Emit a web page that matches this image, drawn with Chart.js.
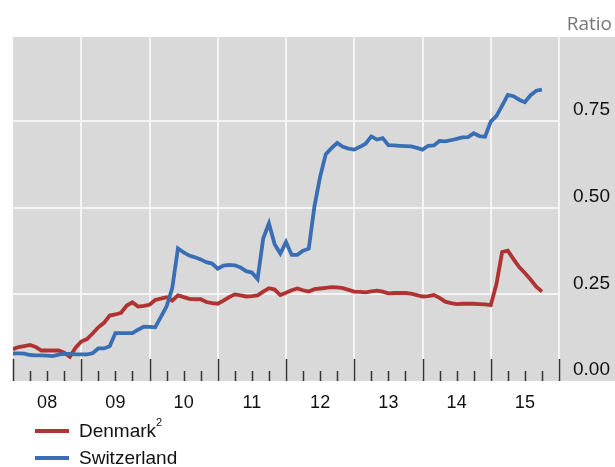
<!DOCTYPE html>
<html>
<head>
<meta charset="utf-8">
<script src="https://cdn.jsdelivr.net/npm/chart.js@4"></script>
<style>
  html, body { margin: 0; padding: 0; background: #fff; }
  #wrap { width: 615px; height: 467px; position: relative; }
</style>
</head>
<body>
<div id="wrap"><canvas id="grafico"></canvas></div>
<script>
// dados mensais, jan/2008 .. out/2015
const firstYear = 2008;
const lastYear = 2016;
const yearLabels = ['08', '09', '10', '11', '12', '13', '14', '15'];
const yTicks = [0, 0.25, 0.5, 0.75];
const seriesNames = ['Denmark', 'Switzerland'];
const seriesNotes = ['2', ''];

const denmark = [
  0.092, 0.098, 0.101, 0.104, 0.098, 0.088, 0.088, 0.088, 0.088, 0.082, 0.070, 0.096,
  0.114, 0.121, 0.137, 0.155, 0.168, 0.189, 0.192, 0.197, 0.218, 0.227, 0.215, 0.217,
  0.220, 0.234, 0.238, 0.242, 0.232, 0.247, 0.242, 0.237, 0.236, 0.236, 0.228, 0.225,
  0.223, 0.232, 0.242, 0.250, 0.247, 0.244, 0.245, 0.247, 0.258, 0.268, 0.264, 0.248,
  0.255, 0.262, 0.267, 0.262, 0.258, 0.265, 0.267, 0.269, 0.271, 0.270, 0.268, 0.263,
  0.258, 0.257, 0.256, 0.259, 0.261, 0.258, 0.253, 0.254, 0.254, 0.254, 0.252, 0.248,
  0.244, 0.245, 0.248, 0.240, 0.229, 0.225, 0.222, 0.223, 0.223, 0.223, 0.222, 0.221,
  0.219, 0.280, 0.372, 0.376, 0.352, 0.329, 0.312, 0.293, 0.272, 0.258
];

const switzerland = [
  0.080, 0.080, 0.079, 0.075, 0.074, 0.074, 0.073, 0.072, 0.076, 0.078, 0.078, 0.077,
  0.077, 0.077, 0.080, 0.094, 0.094, 0.100, 0.138, 0.138, 0.138, 0.138, 0.148, 0.157,
  0.156, 0.155, 0.185, 0.215, 0.268, 0.383, 0.371, 0.362, 0.357, 0.351, 0.343, 0.339,
  0.324, 0.333, 0.335, 0.334, 0.328, 0.317, 0.313, 0.294, 0.412, 0.455, 0.395, 0.368,
  0.401, 0.364, 0.364, 0.376, 0.382, 0.504, 0.590, 0.655, 0.672, 0.687, 0.676, 0.671,
  0.668, 0.676, 0.685, 0.706, 0.697, 0.701, 0.681, 0.680, 0.679, 0.678, 0.677, 0.673,
  0.668, 0.679, 0.680, 0.693, 0.692, 0.695, 0.699, 0.703, 0.704, 0.715, 0.707, 0.705,
  0.749, 0.765, 0.795, 0.826, 0.822, 0.812, 0.805, 0.825, 0.838, 0.841
];

const toPoints = arr => arr.map((v, i) => ({ x: firstYear + i / 12, y: v }));
const fonte = '"Liberation Sans", Arial, sans-serif';

// fundo cinza, grade vertical, ticks do eixo x e legenda
const decorPlugin = {
  id: 'decor',
  beforeDraw(chart) {
    const { ctx, chartArea: a, scales: { x } } = chart;
    ctx.save();
    ctx.fillStyle = '#d9d9d9';
    ctx.fillRect(a.left, a.top, chart.width - a.left, a.bottom - a.top);
    ctx.strokeStyle = '#f4f4f4';
    ctx.lineWidth = 2;
    for (let yr = firstYear + 1; yr <= lastYear; yr++) {
      const px = Math.round(x.getPixelForValue(yr));
      ctx.beginPath();
      ctx.moveTo(px, a.top);
      ctx.lineTo(px, a.bottom);
      ctx.stroke();
    }
    ctx.fillStyle = '#777';
    ctx.font = '19px "Open Sans"';
    ctx.textAlign = 'right';
    ctx.textBaseline = 'middle';
    ctx.fillText('Ratio', 612, 25);
    ctx.restore();
  },
  afterDatasetsDraw(chart) {
    const { ctx, chartArea: a, scales: { x } } = chart;
    ctx.save();
    ctx.strokeStyle = '#333';
    ctx.lineWidth = 1.5;
    for (let yr = firstYear; yr <= lastYear; yr++) {
      for (let q = 0; q < 4; q++) {
        if (yr === lastYear && q > 0) break;
        const px = Math.round(x.getPixelForValue(yr + q / 4)) + 0.5;
        const len = q === 0 ? 22 : 10;
        ctx.beginPath();
        ctx.moveTo(px, a.bottom - len);
        ctx.lineTo(px, a.bottom);
        ctx.stroke();
      }
    }
    // legenda empilhada
    ctx.textAlign = 'left';
    ctx.textBaseline = 'middle';
    chart.data.datasets.forEach((ds, i) => {
      const y = 431 + i * 27;
      ctx.strokeStyle = ds.borderColor;
      ctx.lineWidth = 4;
      ctx.beginPath();
      ctx.moveTo(35, y);
      ctx.lineTo(69, y);
      ctx.stroke();
      ctx.fillStyle = '#111';
      ctx.font = '19px ' + fonte;
      ctx.fillText(ds.label, 79, y + 1);
      if (seriesNotes[i]) {
        const w = ctx.measureText(ds.label).width;
        ctx.font = '11px ' + fonte;
        ctx.fillText(seriesNotes[i], 79 + w, y - 8);
      }
    });
    ctx.restore();
  }
};

new Chart(document.getElementById('grafico'), {
  type: 'line',
  data: {
    datasets: [
      {
        label: seriesNames[0],
        data: toPoints(denmark),
        borderColor: '#b03232',
        borderWidth: 3.8,
        pointRadius: 0,
        tension: 0,
        order: 1
      },
      {
        label: seriesNames[1],
        data: toPoints(switzerland),
        borderColor: '#3a6eb4',
        borderWidth: 3.8,
        pointRadius: 0,
        tension: 0,
        order: 0
      }
    ]
  },
  options: {
    responsive: true,
    maintainAspectRatio: false,
    animation: false,
    layout: { padding: { left: 13, top: 37, right: 0, bottom: 46 } },
    plugins: { legend: { display: false }, tooltip: { enabled: false } },
    scales: {
      x: {
        type: 'linear',
        min: firstYear,
        max: lastYear,
        grid: { display: false },
        border: { display: false },
        afterBuildTicks: s => { s.ticks = yearLabels.map((_, i) => ({ value: firstYear + i + 0.5 })); },
        afterFit: s => { s.height = 40; },
        ticks: {
          autoSkip: false,
          maxRotation: 0,
          padding: 3,
          color: '#111',
          font: { family: fonte, size: 18 },
          callback: (v, i) => yearLabels[i]
        }
      },
      y: {
        position: 'right',
        min: 0,
        max: 0.993,
        grid: {
          drawTicks: false,
          lineWidth: 2,
          color: c => (c.tick && c.tick.value === 0) ? 'rgba(0,0,0,0)' : '#f4f4f4'
        },
        border: { display: false },
        afterBuildTicks: s => { s.ticks = yTicks.map(v => ({ value: v })); },
        afterFit: s => { s.width = 56; },
        ticks: {
          padding: 14,
          labelOffset: -11,
          color: '#111',
          font: { family: fonte, size: 19 },
          callback: v => v.toFixed(2)
        }
      }
    }
  },
  plugins: [decorPlugin]
});
</script>
</body>
</html>
